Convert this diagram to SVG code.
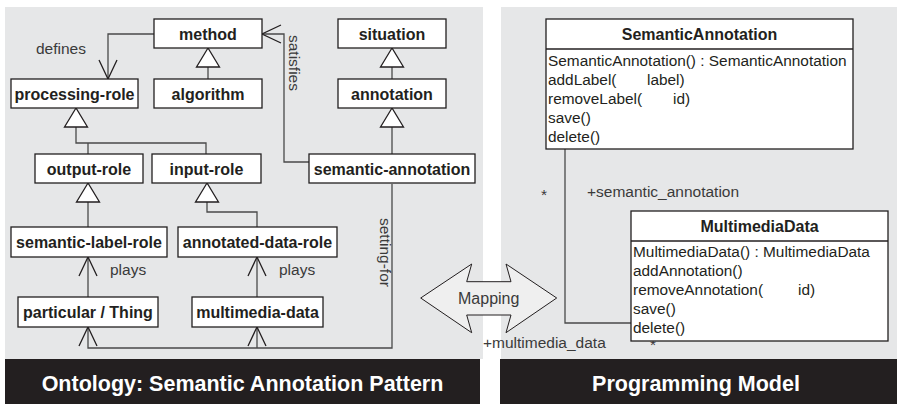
<svg xmlns="http://www.w3.org/2000/svg" width="897" height="404" viewBox="0 0 897 404">
<style>
.bg{fill:#e6e7e8}
.band{fill:#231f20}
.node{fill:#fff;stroke:#231f20;stroke-width:1.3}
.nt{font-family:"Liberation Sans",Arial,sans-serif;font-weight:bold;font-size:16px;fill:#231f20;text-anchor:middle}
.lbl{font-family:"Liberation Sans",Arial,sans-serif;font-size:15.5px;fill:#3a3a3a}
.op{font-family:"Liberation Sans",Arial,sans-serif;font-size:15.4px;fill:#231f20}
.title{font-family:"Liberation Sans",Arial,sans-serif;font-weight:bold;font-size:21.5px;fill:#fff;text-anchor:middle}
.ln{fill:none;stroke:#4a4a4a;stroke-width:1.3}
</style>
<defs>
<marker id="tri" markerUnits="userSpaceOnUse" markerWidth="24" markerHeight="26" viewBox="-21 -13 24 26" refX="0" refY="0" orient="auto">
<path d="M0,0 L-19,-11.5 L-19,11.5 Z" fill="#fff" stroke="#231f20" stroke-width="1.3"/>
</marker>
<marker id="open" markerUnits="userSpaceOnUse" markerWidth="24" markerHeight="24" viewBox="-21 -12 24 24" refX="0" refY="0" orient="auto">
<path d="M-19,-9 L0,0 L-19,9" fill="none" stroke="#231f20" stroke-width="1.3"/>
</marker>
</defs>

<rect class="bg" x="5" y="7" width="478" height="352"/>
<rect class="bg" x="501" y="7" width="396" height="352"/>
<rect class="band" x="5" y="359" width="475" height="45"/>
<rect class="band" x="500" y="359" width="397" height="45"/>
<text class="title" x="242.5" y="391">Ontology: Semantic Annotation Pattern</text>
<text class="title" x="696" y="391">Programming Model</text>

<g id="connectors">
<path class="ln" d="M208,79 V48" marker-end="url(#tri)"/>
<path class="ln" d="M392,79 V48" marker-end="url(#tri)"/>
<path class="ln" d="M392,154 V108" marker-end="url(#tri)"/>
<path class="ln" d="M206,154 V143 H76 V108" marker-end="url(#tri)"/>
<path class="ln" d="M88,154 V143"/>
<path class="ln" d="M88,227 V183" marker-end="url(#tri)"/>
<path class="ln" d="M257,227 V212 H207 V183" marker-end="url(#tri)"/>
<path class="ln" d="M154,34 H108 V79" marker-end="url(#open)"/>
<path class="ln" d="M309,162 H284 V34 H262" marker-end="url(#open)"/>
<path class="ln" d="M88,297 V257" marker-end="url(#open)"/>
<path class="ln" d="M257,297 V257" marker-end="url(#open)"/>
<path class="ln" d="M392,184 V348 H88 V327" marker-end="url(#open)"/>
<path class="ln" d="M257,348 V327" marker-end="url(#open)"/>
<path class="ln" d="M565,149 V323 H631"/>
<text class="lbl" x="36" y="54">defines</text>
<text class="lbl" transform="translate(289,35) rotate(90)">satisfies</text>
<text class="lbl" transform="translate(380,218) rotate(90)">setting-for</text>
<text class="lbl" x="110" y="275">plays</text>
<text class="lbl" x="279" y="275">plays</text>
<text class="lbl" x="541" y="200">*</text>
<text class="lbl" x="587" y="197">+semantic_annotation</text>
<text class="lbl" x="650" y="350">*</text>
<text class="lbl" x="483" y="348">+multimedia_data</text>
</g>

<g id="mapping">
<polygon points="420.7,298 471.7,264 466.7,281.7 511,281.7 506,264 556.7,298 506,332.7 511,315 466.7,315 471.7,332.7" fill="#efefef" stroke="#231f20" stroke-width="1"/>
<text class="lbl" x="488.7" y="304" text-anchor="middle" style="font-size:16px">Mapping</text>
</g>

<g id="method"><rect class="node" x="154" y="19" width="108" height="29"/><text class="nt" x="208" y="39.5">method</text></g>
<g id="situation"><rect class="node" x="338" y="19" width="108" height="29"/><text class="nt" x="392" y="39.5">situation</text></g>
<g id="processing-role"><rect class="node" x="11" y="79" width="127" height="29"/><text class="nt" x="74.5" y="99.5">processing-role</text></g>
<g id="algorithm"><rect class="node" x="154" y="79" width="108" height="29"/><text class="nt" x="208" y="99.5">algorithm</text></g>
<g id="annotation"><rect class="node" x="338" y="79" width="108" height="29"/><text class="nt" x="392" y="99.5">annotation</text></g>
<g id="output-role"><rect class="node" x="35" y="154" width="108" height="29"/><text class="nt" x="89" y="174.5">output-role</text></g>
<g id="input-role"><rect class="node" x="152" y="154" width="109" height="29"/><text class="nt" x="206.5" y="174.5">input-role</text></g>
<g id="semantic-annotation"><rect class="node" x="309" y="154" width="166" height="29"/><text class="nt" x="392" y="174.5">semantic-annotation</text></g>
<g id="semantic-label-role"><rect class="node" x="11" y="227" width="156" height="30"/><text class="nt" x="89" y="248">semantic-label-role</text></g>
<g id="annotated-data-role"><rect class="node" x="178" y="227" width="159" height="30"/><text class="nt" x="257.5" y="248">annotated-data-role</text></g>
<g id="particular-thing"><rect class="node" x="18" y="297" width="140" height="30"/><text class="nt" x="88" y="318">particular / Thing</text></g>
<g id="multimedia-data"><rect class="node" x="192" y="297" width="131" height="30"/><text class="nt" x="257.5" y="318">multimedia-data</text></g>

<g id="SemanticAnnotation">
<rect class="node" x="546" y="19" width="307" height="130"/>
<line x1="546" y1="49" x2="853" y2="49" stroke="#231f20" stroke-width="1.3"/>
<text class="nt" x="699.5" y="40">SemanticAnnotation</text>
<text class="op" x="548" y="66">SemanticAnnotation() : SemanticAnnotation</text>
<text class="op" x="548" y="85">addLabel(</text><text class="op" x="647" y="85">label)</text>
<text class="op" x="548" y="104">removeLabel(</text><text class="op" x="673" y="104">id)</text>
<text class="op" x="548" y="123">save()</text>
<text class="op" x="548" y="142">delete()</text>
</g>

<g id="MultimediaData">
<rect class="node" x="631" y="211" width="257" height="130"/>
<line x1="631" y1="241" x2="888" y2="241" stroke="#231f20" stroke-width="1.3"/>
<text class="nt" x="759.5" y="232">MultimediaData</text>
<text class="op" x="633" y="257">MultimediaData() : MultimediaData</text>
<text class="op" x="633" y="276">addAnnotation()</text>
<text class="op" x="633" y="295">removeAnnotation(</text><text class="op" x="798" y="295">id)</text>
<text class="op" x="633" y="314">save()</text>
<text class="op" x="633" y="333">delete()</text>
</g>
</svg>
